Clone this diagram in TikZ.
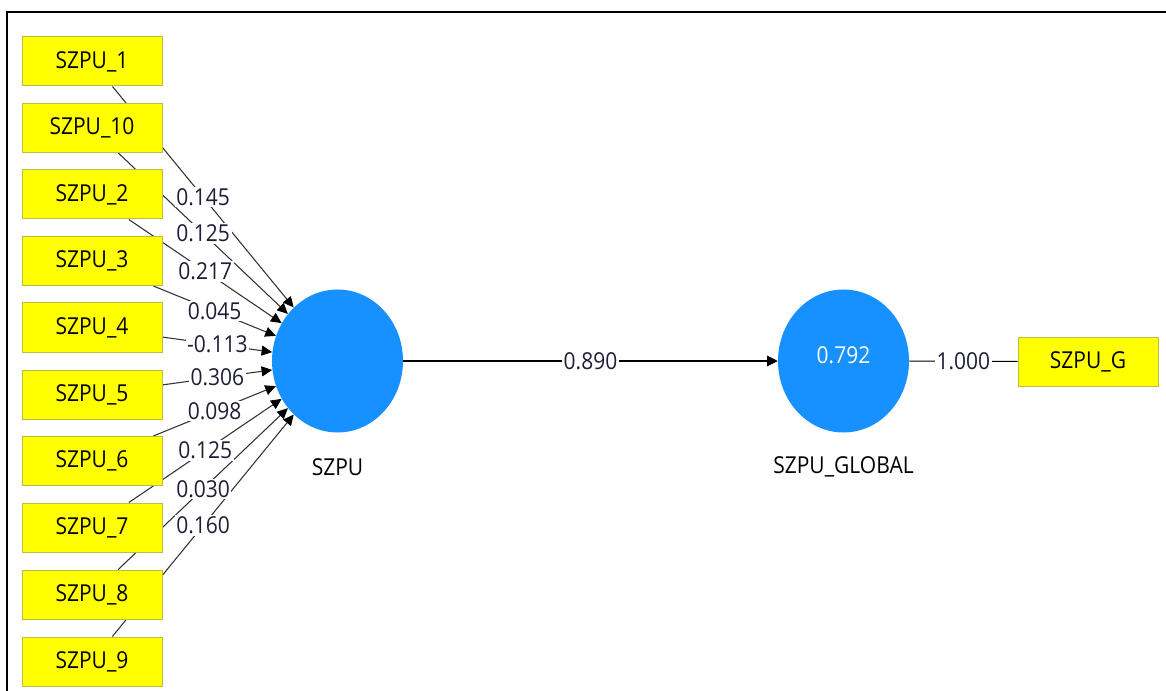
\documentclass[tikz,border=0pt]{standalone}
\usepackage{fontspec}
\setmainfont{Open Sans}[FakeStretch=0.9]
\usepackage{xcolor}
\usetikzlibrary{positioning,shapes.geometric,arrows.meta,backgrounds}

\definecolor{indfill}{RGB}{255,255,0}
\definecolor{inddraw}{RGB}{190,190,70}
\definecolor{lvfill}{RGB}{22,145,255}
\definecolor{wtext}{RGB}{30,30,55}
\definecolor{ldline}{RGB}{50,50,50}

\tikzset{
	indbox/.style={draw=inddraw, fill=indfill, line width=0.75pt, minimum width=105pt, minimum height=36.75pt, inner sep=0pt, font=\fontsize{17.5}{20}\selectfont},
	lvar/.style={ellipse, fill=lvfill, minimum width=98.25pt, minimum height=107.25pt, inner sep=0pt, text=white, font=\fontsize{17.5}{20}\selectfont},
	lvname/.style={font=\fontsize{17.5}{20}\selectfont},
	wlab/.style={fill=white, inner sep=1.2pt, text=wtext, font=\fontsize{17.5}{20}\selectfont},
	ldedge/.style={draw=ldline, line width=0.8pt, -{Triangle[length=8pt,width=7.5pt,color=black]}},
	refedge/.style={draw=black, line width=0.8pt},
	inneredge/.style={draw=black, line width=0.8pt, -{Triangle[length=8pt,width=8pt]}}
}

\begin{document}
\begin{tikzpicture}[x=0.75pt,y=-0.75pt]
	\useasboundingbox (0,0) rectangle (1166,691);
	% frame, top and left only
	\draw[line width=1.5pt] (1166,12) -- (7,12) -- (7,691);
	
	% indicators of SZPU
	\foreach \n/\y in {1/61.5, 10/128, 2/194.5, 3/261, 4/327.5, 5/394.5, 6/461, 7/527.5, 8/594.5, 9/661.5}
		\node[indbox] (ind\n) at (92,\y) {SZPU\_\n};
	
	% latent variables
	\node[lvar] (szpu) at (337.5,361) {};
	\node[lvname] (szpuname) at (337.5,467) {SZPU};
	\node[lvar] (glob) at (843.5,361) {};
	\node[lvname, text=white] (globval) at (843.5,355) {0.792};
	\node[lvname] (globname) at (843.5,467) {SZPU\_GLOBAL};
	\node[indbox] (indg) at (1088,361.5) {SZPU\_G};
	
	% outer weights, lines behind the boxes
	\begin{scope}[on background layer]
		\foreach \n in {1,10,2,3,4,5,6,7,8,9}
			\draw[ldedge] (ind\n) -- coordinate[midway] (mid\n) (szpu);
	\end{scope}
	\foreach \n/\w in {1/0.145, 10/0.125, 2/0.217, 3/0.045, 4/-0.113, 5/0.306, 6/0.098, 7/0.125, 8/0.030, 9/0.160}
		\node[wlab] (w\n) at (mid\n) {\w};
	
	% inner model
	\draw[inneredge] (szpu) -- node[wlab] (wpath) {0.890} (glob);
	\draw[refedge] (glob) -- node[wlab] (wg) {1.000} (indg);
\end{tikzpicture}
\end{document}
